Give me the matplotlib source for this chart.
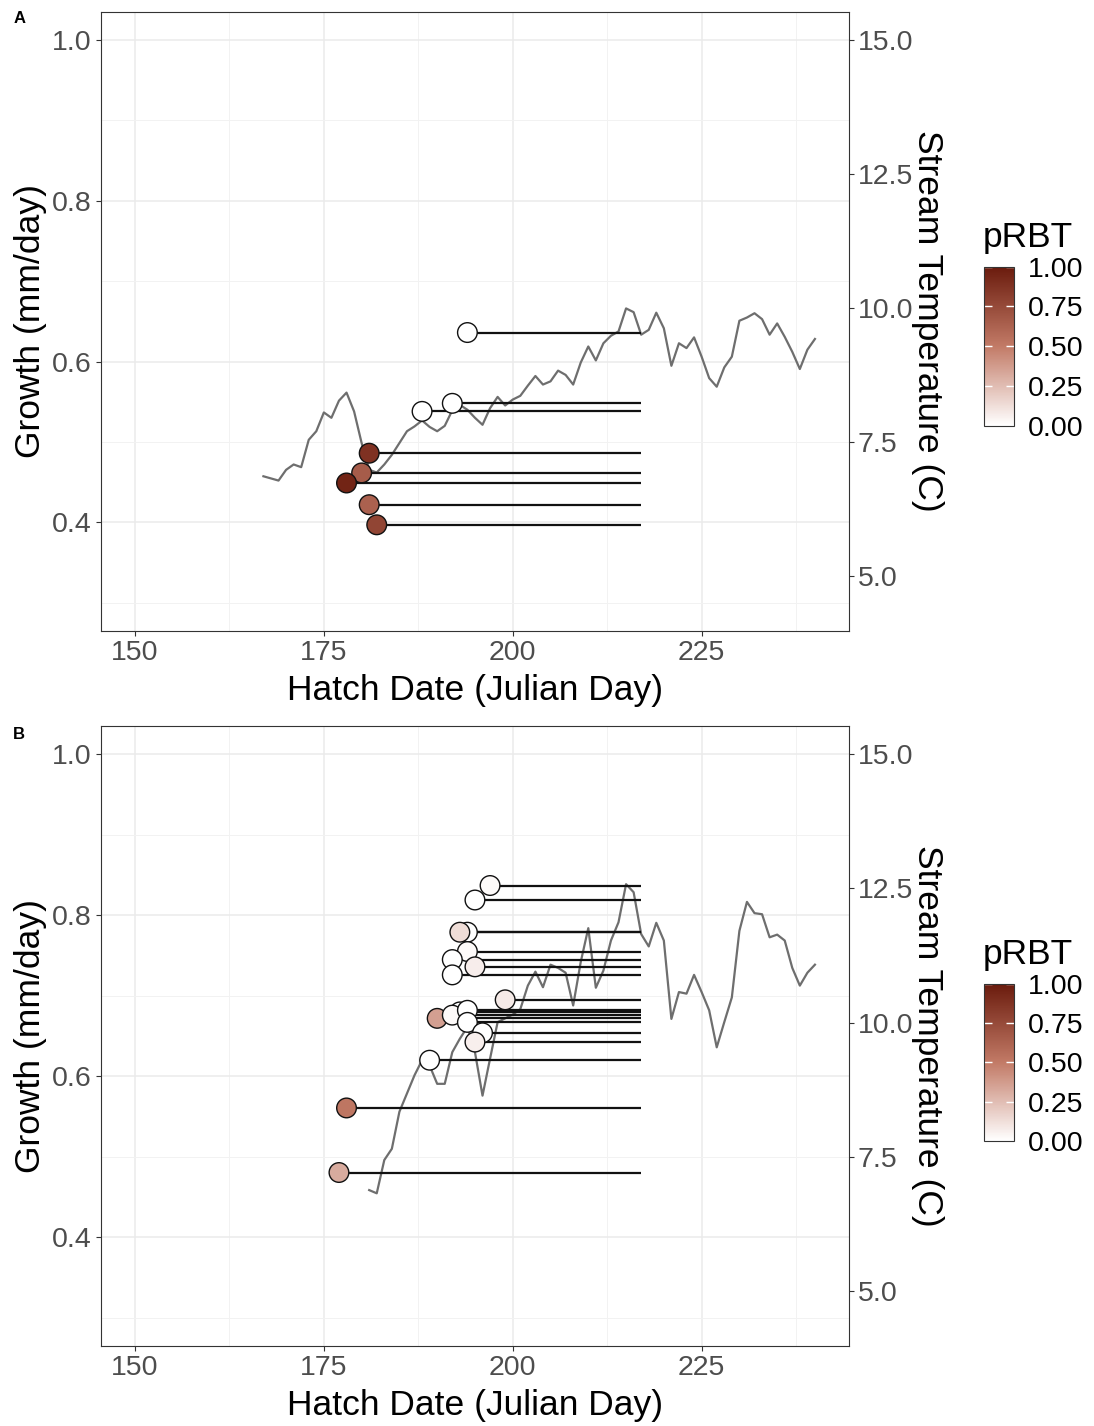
import numpy as np
import matplotlib
matplotlib.use("Agg")
import matplotlib.pyplot as plt
from matplotlib.colors import LinearSegmentedColormap, Normalize

plt.rcParams['font.family'] = ['Liberation Sans', 'DejaVu Sans']

# stream temperature (C), daily
temp_days_a = list(range(167, 241))
temp_a = [6.86, 6.82, 6.78, 6.98, 7.08, 7.03, 7.54, 7.70, 8.05, 7.95,
          8.27, 8.42, 8.07, 7.48, 6.98, 6.93, 7.08, 7.26, 7.48, 7.70,
          7.79, 7.90, 7.78, 7.70, 7.80, 8.09, 8.19, 8.10, 7.95, 7.82,
          8.13, 8.34, 8.18, 8.29, 8.36, 8.55, 8.73, 8.57, 8.63, 8.83,
          8.75, 8.57, 8.98, 9.28, 9.02, 9.34, 9.48, 9.56, 9.99, 9.92,
          9.50, 9.59, 9.91, 9.62, 8.92, 9.34, 9.25, 9.45, 9.09, 8.69,
          8.53, 8.89, 9.09, 9.76, 9.82, 9.90, 9.79, 9.50, 9.71, 9.46,
          9.18, 8.86, 9.22, 9.42]
temp_days_b = list(range(181, 241))
temp_b = [6.88, 6.82, 7.44, 7.65, 8.34, 8.68, 9.02, 9.30, 9.20, 8.86,
          8.86, 9.45, 9.70, 9.92, 9.45, 8.64, 9.33, 10.01, 10.08, 10.15,
          10.25, 10.69, 10.95, 10.66, 11.08, 11.02, 10.93, 10.32, 11.13, 11.76,
          10.65, 10.97, 11.53, 11.87, 12.58, 12.43, 11.65, 11.42, 11.86, 11.53,
          10.07, 10.57, 10.54, 10.89, 10.57, 10.23, 9.54, 10.01, 10.47, 11.71,
          12.25, 12.04, 12.02, 11.59, 11.64, 11.53, 11.02, 10.69, 10.93, 11.08]

# fish: hatch date, growth, pRBT
hatch_a = [194, 192, 188, 181, 180, 178, 181, 182]
growth_a = [0.636, 0.548, 0.538, 0.486, 0.4615, 0.449, 0.422, 0.397]
prbt_a = [0.0, 0.0, 0.0, 0.88, 0.66, 0.95, 0.63, 0.78]

hatch_b = [197, 195, 194, 193, 194, 192, 195, 192, 199, 193,
           190, 192, 194, 194, 196, 195, 189, 178, 177]
growth_b = [0.837, 0.819, 0.779, 0.779, 0.755, 0.745, 0.736, 0.726, 0.695, 0.680,
            0.672, 0.676, 0.682, 0.667, 0.654, 0.6425, 0.620, 0.5607, 0.4805]
prbt_b = [0.02, 0.0, 0.0, 0.13, 0.02, 0.0, 0.07, 0.0, 0.08, 0.0,
          0.36, 0.02, 0.0, 0.0, 0.0, 0.06, 0.0, 0.52, 0.32]

capture_day = 217

cmap = LinearSegmentedColormap.from_list('prbt', ['#FFFFFF', '#C27A66', '#6A1B0D'])
norm = Normalize(0, 1)

fig = plt.figure(figsize=(10.94, 14.26), dpi=100)


def panel(rect, cbar_rect, days, temp, hatch, growth, prbt, tag, tag_y):
    ax = fig.add_axes(rect)
    ax.set_xlim(145.5, 244.5)
    ax.set_ylim(0.265, 1.035)
    ax.set_xticks([150, 175, 200, 225])
    ax.set_yticks([0.4, 0.6, 0.8, 1.0])
    ax.set_xticks([162.5, 187.5, 212.5, 237.5], minor=True)
    ax.set_yticks([0.3, 0.5, 0.7, 0.9], minor=True)
    ax.grid(which='major', color='#EBEBEB', lw=1.1)
    ax.grid(which='minor', color='#F2F2F2', lw=0.7)
    ax.set_axisbelow(True)
    ax.tick_params(which='minor', length=0)
    ax.tick_params(which='major', length=3.5, width=0.8, color='#333333',
                   labelsize=20.5, labelcolor='#4D4D4D', pad=3)
    ax.set_yticklabels(['0.4', '0.6', '0.8', '1.0'])
    for s in ax.spines.values():
        s.set_color('#333333')
        s.set_linewidth(0.8)

    # temperature on the secondary scale (T = growth * 15)
    ax.plot(days, np.array(temp) / 15.0, color='#6E6E6E', lw=1.6, zorder=2)
    ax.hlines(growth, hatch, capture_day, color='#111111', lw=1.6, zorder=3)
    ax.scatter(hatch, growth, c=prbt, cmap=cmap, norm=norm, s=200,
               edgecolors='#111111', linewidths=1.0, zorder=4)

    sec = ax.secondary_yaxis('right', functions=(lambda g: g * 15, lambda t: t / 15))
    sec.set_yticks([5.0, 7.5, 10.0, 12.5, 15.0])
    sec.set_yticklabels(['5.0', '7.5', '10.0', '12.5', '15.0'])
    sec.tick_params(length=3.5, width=0.8, color='#333333',
                    labelsize=20.5, labelcolor='#4D4D4D', pad=3)
    sec.spines['right'].set_visible(False)
    sec.set_ylabel('Stream Temperature (C)', fontsize=25.5, rotation=-90, labelpad=22)

    ax.set_xlabel('Hatch Date (Julian Day)', fontsize=25.5, labelpad=6)
    ax.set_ylabel('Growth (mm/day)', fontsize=25.5, labelpad=4)

    fig.text(0.012, tag_y, tag, fontsize=12, fontweight='bold', va='top')

    cax = fig.add_axes(cbar_rect)
    cb = fig.colorbar(plt.cm.ScalarMappable(norm=norm, cmap=cmap), cax=cax)
    cb.set_ticks([0, 0.25, 0.5, 0.75, 1.0])
    cb.set_ticklabels(['0.00', '0.25', '0.50', '0.75', '1.00'])
    cax.tick_params(left=True, right=True, direction='in', length=6, width=1,
                    color='white', labelsize=20.5, labelcolor='black', pad=10)
    cb.outline.set_edgecolor('#333333')
    cb.outline.set_linewidth(0.8)
    cax.set_title('pRBT', fontsize=25.5, loc='left', pad=14, x=-0.05)
    return ax


panel([0.0923, 0.5575, 0.6837, 0.4344], [0.8995, 0.7015, 0.0274, 0.1115],
      temp_days_a, temp_a, hatch_a, growth_a, prbt_a, 'A', 0.992)
panel([0.0923, 0.0561, 0.6837, 0.4347], [0.8995, 0.2000, 0.0274, 0.1101],
      temp_days_b, temp_b, hatch_b, growth_b, prbt_b, 'B', 0.49)

fig.savefig('out.png', dpi=100)
